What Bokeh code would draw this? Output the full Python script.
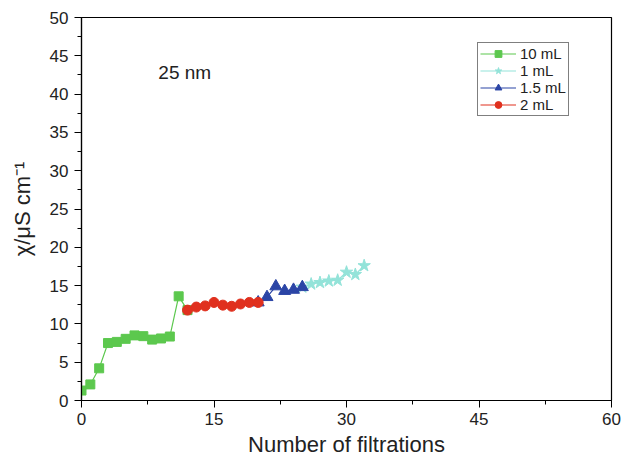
from bokeh.plotting import figure
from bokeh.models import Range1d, FixedTicker, Legend, LegendItem
from bokeh.core.properties import value
from bokeh.embed import file_html
from bokeh.resources import INLINE

# data
x_10 = [0, 1, 2, 3, 4, 5, 6, 7, 8, 9, 10, 11, 12]
y_10 = [1.3, 2.1, 4.2, 7.5, 7.65, 8.05, 8.5, 8.4, 7.95, 8.1, 8.35, 13.6, 11.8]
x_1 = [25, 26, 27, 28, 29, 30, 31, 32]
y_1 = [14.8, 15.2, 15.4, 15.6, 15.7, 16.75, 16.45, 17.6]
x_15 = [20, 21, 22, 23, 24, 25]
y_15 = [12.8, 13.5, 14.9, 14.3, 14.45, 14.8]
x_2 = [12, 13, 14, 15, 16, 17, 18, 19, 20]
y_2 = [11.8, 12.2, 12.35, 12.8, 12.45, 12.3, 12.6, 12.8, 12.8]

x_ticks = [0, 15, 30, 45, 60]
y_ticks = [0, 5, 10, 15, 20, 25, 30, 35, 40, 45, 50]
annotation = "25 nm"

C_GREEN = "#5cc84e"
C_CYAN = "#93e3d9"
C_BLUE = "#2b45a6"
C_RED = "#e0301e"
FONT = "Liberation Sans"

p = figure(width=624, height=459, output_backend="svg", toolbar_location=None,
           x_range=Range1d(0, 60), y_range=Range1d(0, 50),
           min_border_left=81, min_border_right=13, min_border_top=17, min_border_bottom=59)
p.xgrid.visible = False
p.ygrid.visible = False
p.outline_line_color = "black"
p.outline_line_width = 1.2
p.background_fill_color = "white"
p.border_fill_color = "white"

for ax in (p.xaxis[0], p.yaxis[0]):
    ax.axis_line_color = "black"
    ax.axis_line_width = 1.2
    ax.major_tick_line_color = "black"
    ax.minor_tick_line_color = "black"
    ax.major_tick_out = 7
    ax.major_tick_in = 0
    ax.minor_tick_out = 4
    ax.minor_tick_in = 0
    ax.major_label_text_font = FONT
    ax.major_label_text_font_size = "17px"
    ax.major_label_text_color = "#222222"
    ax.axis_label_text_font = FONT
    ax.axis_label_text_font_size = "22px"
    ax.axis_label_text_font_style = "normal"
    ax.axis_label_text_color = "#222222"

p.xaxis[0].ticker = FixedTicker(ticks=x_ticks, minor_ticks=[7.5, 22.5, 37.5, 52.5])
p.yaxis[0].ticker = FixedTicker(ticks=y_ticks, minor_ticks=[v + 2.5 for v in y_ticks[:-1]])
p.xaxis[0].axis_label = "Number of filtrations"
p.yaxis[0].axis_label = "χ/μS cm⁻¹"
p.xaxis[0].major_label_standoff = 5
p.xaxis[0].axis_label_standoff = 4
p.yaxis[0].major_label_standoff = 6
p.yaxis[0].axis_label_standoff = 12

l10 = p.line(x_10, y_10, line_color=C_GREEN, line_width=1.2)
s10 = p.scatter(x_10, y_10, marker="square", size=9, fill_color=C_GREEN, line_color=C_GREEN)
l1 = p.line(x_1, y_1, line_color=C_CYAN, line_width=1.2)
s1 = p.scatter(x_1, y_1, marker="star", size=13, fill_color=C_CYAN, line_color=C_CYAN)
l15 = p.line(x_15, y_15, line_color=C_BLUE, line_width=1.2)
s15 = p.scatter(x_15, y_15, marker="triangle", size=12, fill_color=C_BLUE, line_color=C_BLUE)
l2 = p.line(x_2, y_2, line_color=C_RED, line_width=1.2)
s2 = p.scatter(x_2, y_2, marker="circle", size=10, fill_color=C_RED, line_color=C_RED)

p.text(x=[8.7], y=[42.8], text=[annotation], text_font=value(FONT), text_font_size="19px",
       text_baseline="middle", text_align="left", text_color="#222222")

legend = Legend(items=[
    LegendItem(label="10 mL", renderers=[l10, s10]),
    LegendItem(label="1 mL", renderers=[l1, s1]),
    LegendItem(label="1.5 mL", renderers=[l15, s15]),
    LegendItem(label="2 mL", renderers=[l2, s2]),
], location=(396, 284))
legend.border_line_color = "black"
legend.border_line_width = 1
legend.label_text_font = FONT
legend.label_text_font_size = "15px"
legend.label_text_color = "#222222"
legend.glyph_width = 36
legend.glyph_height = 17
legend.label_height = 17
legend.spacing = 0
legend.padding = 2
legend.margin = 0
legend.label_standoff = 4
legend.background_fill_alpha = 1
p.add_layout(legend, "center")

open("out.html", "w").write(file_html(p, INLINE))
